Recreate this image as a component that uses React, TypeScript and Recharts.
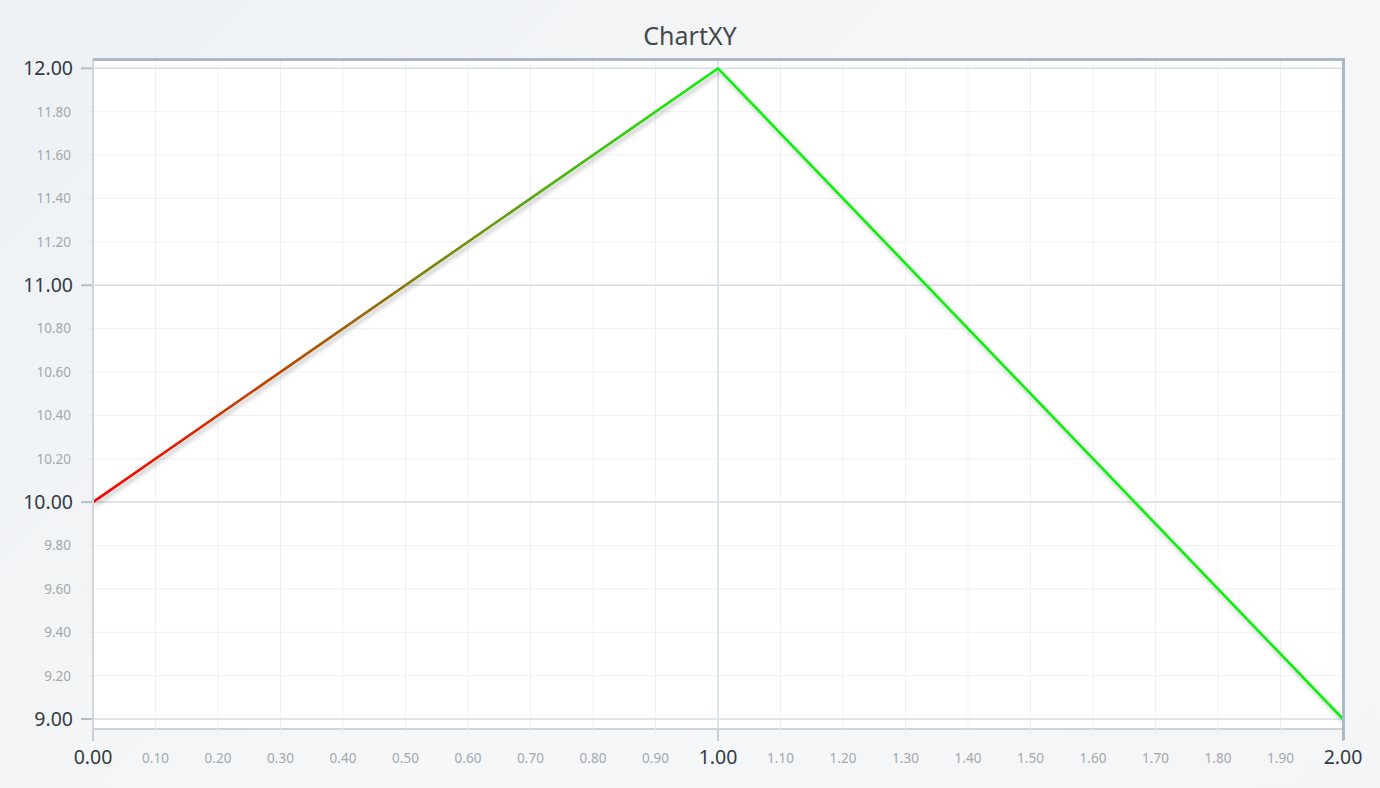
import React from "react";
import { LineChart, Line, XAxis, YAxis, CartesianGrid, ReferenceLine } from "recharts";

const xValues = [0, 1, 2];
const yValues = [10, 12, 9];

const xTicks = [0, 0.1, 0.2, 0.3, 0.4, 0.5, 0.6, 0.7, 0.8, 0.9, 1, 1.1, 1.2, 1.3, 1.4, 1.5, 1.6, 1.7, 1.8, 1.9, 2];
const yTicks = [9, 9.2, 9.4, 9.6, 9.8, 10, 10.2, 10.4, 10.6, 10.8, 11, 11.2, 11.4, 11.6, 11.8, 12];
const xMajor = [1];
const yMajor = [9, 10, 11, 12];

const data = xValues.map((x, i) => ({ x, y: yValues[i] }));

const FONT = "'Segoe UI', 'Noto Sans', 'Open Sans', sans-serif";
const isMajor = (v: number) => Math.abs(v - Math.round(v)) < 1e-6;

const CHART_W = 1380;
const CHART_H = 788;
const MARGIN = { top: 59, right: 37, bottom: 0, left: 0 };
const X_AXIS_H = 59;
const Y_AXIS_W = 93;

const YTick = (props: any) => {
  const { x, y, payload } = props;
  const v = payload.value as number;
  if (isMajor(v)) {
    return (
      <g>
        <line x1={x - 12} x2={x - 1} y1={y} y2={y} stroke="#b3bfcb" strokeWidth={2} />
        <text x={x - 20} y={y} dy="0.36em" textAnchor="end" fontSize={19.5} fill="#333a40" fontFamily={FONT}>
          {v.toFixed(2)}
        </text>
      </g>
    );
  }
  return (
    <g>
      <line x1={x - 7} x2={x - 1} y1={y} y2={y} stroke="#e9edf1" strokeWidth={1.5} />
      <text x={x - 22} y={y} dy="0.36em" textAnchor="end" fontSize={13.5} fill="#a3a8ad" fontFamily={FONT}>
        {v.toFixed(2)}
      </text>
    </g>
  );
};

const XTick = (props: any) => {
  const { x, y, payload } = props;
  const v = payload.value as number;
  if (isMajor(v)) {
    return (
      <g>
        <line x1={x} x2={x} y1={y} y2={y + 12} stroke="#c6cdd5" strokeWidth={2} />
        <text x={x} y={y + 28} dy="0.36em" textAnchor="middle" fontSize={19.5} fill="#333a40" fontFamily={FONT}>
          {v.toFixed(2)}
        </text>
      </g>
    );
  }
  return (
    <g>
      <line x1={x} x2={x} y1={y} y2={y + 6} stroke="#eceff2" strokeWidth={1.5} />
      <text x={x} y={y + 29} dy="0.36em" textAnchor="middle" fontSize={13.5} fill="#a3a8ad" fontFamily={FONT}>
        {v.toFixed(2)}
      </text>
    </g>
  );
};

export default function App() {
  const plotLeft = MARGIN.left + Y_AXIS_W;
  const plotTop = MARGIN.top;
  const plotW = CHART_W - MARGIN.left - MARGIN.right - Y_AXIS_W;
  const plotH = CHART_H - MARGIN.top - MARGIN.bottom - X_AXIS_H;
  return (
    <div
      style={{
        position: "absolute",
        left: 0,
        top: 0,
        width: CHART_W,
        height: CHART_H,
        background: "linear-gradient(135deg, #eef1f4 0%, #f5f7f8 55%, #f3f5f7 100%)",
        overflow: "hidden",
      }}
    >
      <div
        style={{
          position: "absolute",
          left: 0,
          top: 19,
          width: CHART_W,
          textAlign: "center",
          fontFamily: FONT,
          fontSize: 25,
          lineHeight: "32px",
          color: "#45494d",
        }}
      >
        ChartXY
      </div>
      <LineChart
        width={CHART_W}
        height={CHART_H}
        data={data}
        margin={MARGIN}
        style={{ position: "absolute", left: 0, top: 0 }}
      >
        <defs>
          <linearGradient id="lineGrad" x1="0" y1="0" x2="1" y2="0">
            <stop offset="0%" stopColor="#ff0000" />
            <stop offset="50%" stopColor="#11f011" />
            <stop offset="100%" stopColor="#11f011" />
          </linearGradient>
          <filter id="lineShadow" x="-5%" y="-5%" width="110%" height="110%">
            <feDropShadow dx="2" dy="3" stdDeviation="2" floodColor="#000" floodOpacity="0.28" />
          </filter>
        </defs>
        <CartesianGrid stroke="#eef1f4" strokeWidth={1} fill="#ffffff" />
        <XAxis
          dataKey="x"
          type="number"
          domain={[0, 2]}
          ticks={xTicks}
          interval={0}
          height={X_AXIS_H}
          tickSize={0}
          tickMargin={0}
          tickLine={false}
          axisLine={{ stroke: "#ced4da", strokeWidth: 2 }}
          tick={<XTick />}
          allowDataOverflow
        />
        <YAxis
          type="number"
          domain={[8.954, 12.043]}
          ticks={yTicks}
          interval={0}
          width={Y_AXIS_W}
          tickSize={0}
          tickMargin={0}
          tickLine={false}
          axisLine={{ stroke: "#d0d5da", strokeWidth: 2 }}
          tick={<YTick />}
          allowDataOverflow
        />
        {yMajor.map((v) => (
          <ReferenceLine key={"y" + v} y={v} stroke="#d7dfe6" strokeWidth={1.5} />
        ))}
        {xMajor.map((v) => (
          <ReferenceLine key={"x" + v} x={v} stroke="#d7dfe6" strokeWidth={1.5} />
        ))}
        <Line
          type="linear"
          dataKey="y"
          stroke="url(#lineGrad)"
          strokeWidth={2.6}
          dot={false}
          activeDot={false}
          filter="url(#lineShadow)"
          isAnimationActive={false}
        />
      </LineChart>
      {/* plot frame: top and right borders */}
      <div
        style={{
          position: "absolute",
          left: plotLeft,
          top: plotTop - 1.5,
          width: plotW + 0.5,
          height: 0,
          borderTop: "3px solid #aab8c7",
          pointerEvents: "none",
        }}
      />
      <div
        style={{
          position: "absolute",
          left: plotLeft + plotW - 1.5,
          top: plotTop - 1.5,
          width: 0,
          height: plotH + 12,
          borderLeft: "3px solid #aab8c7",
          pointerEvents: "none",
        }}
      />
    </div>
  );
}
